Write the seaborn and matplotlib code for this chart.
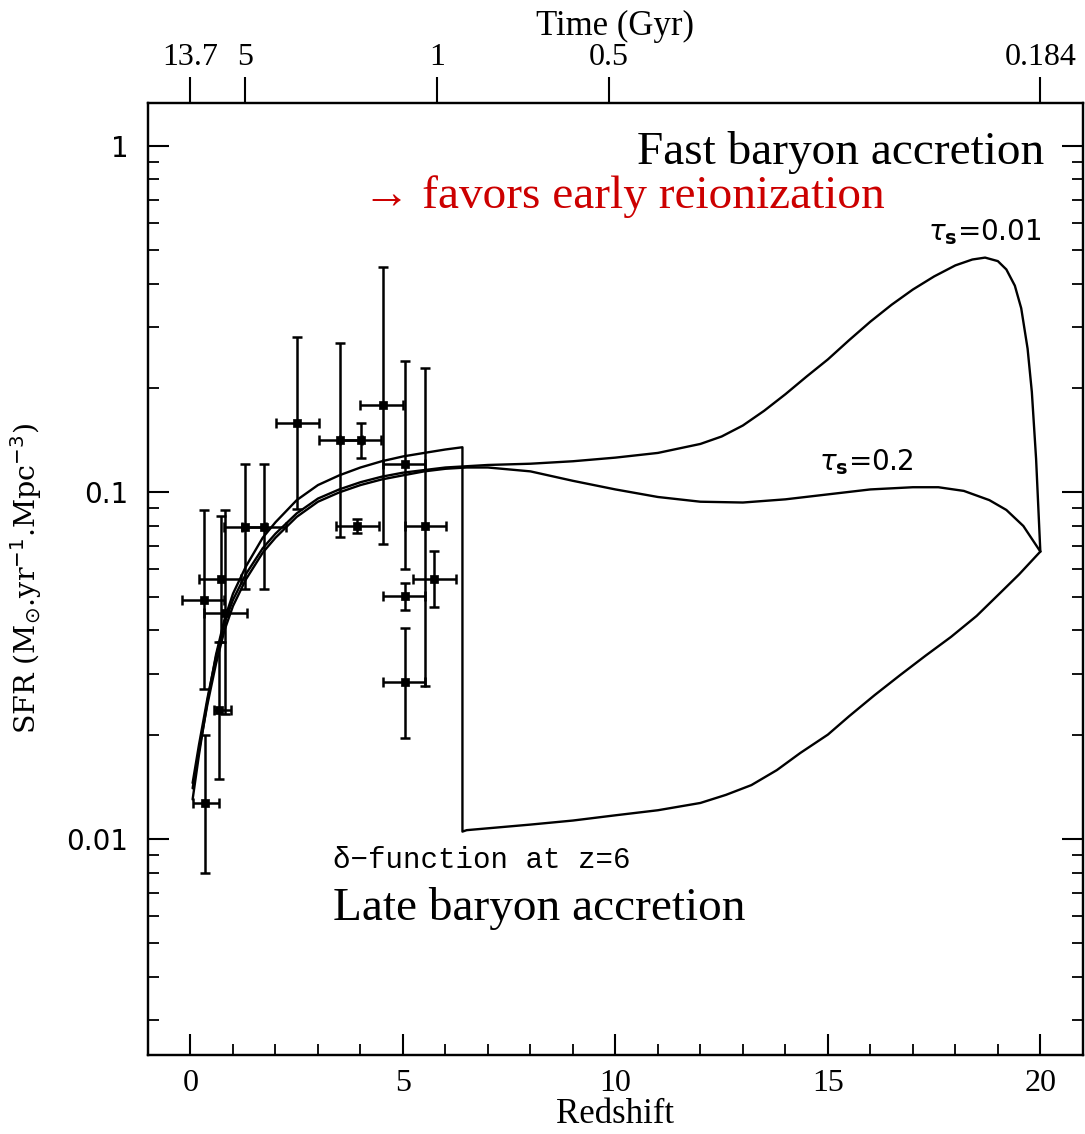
import numpy as np
import pandas as pd
import matplotlib
matplotlib.use("Agg")
import matplotlib.pyplot as plt
import seaborn as sns

# ---------------- data ----------------
# delta-function model (low-z rise, drop at z~6.4, lower branch to z=20)
delta_z = [0.05, 0.2, 0.4, 0.6, 0.8, 1.0, 1.3, 1.7, 2.0, 2.5, 3.0, 3.5, 4.0, 4.5,
           5.0, 5.5, 6.0, 6.4, 6.4, 6.5, 8.0, 9.0, 10.0, 11.0, 12.0, 12.6, 13.2,
           13.8, 14.35, 15.0, 15.5, 16.1, 16.7, 17.3, 17.9, 18.5, 19.05, 19.5, 20.0]
delta_sfr = [0.0130, 0.0175, 0.025, 0.034, 0.043, 0.051, 0.061, 0.074, 0.082, 0.095,
             0.105, 0.112, 0.118, 0.123, 0.127, 0.130, 0.133, 0.135, 0.0105, 0.0106,
             0.0110, 0.0113, 0.0117, 0.0121, 0.0127, 0.0134, 0.0143, 0.0158, 0.0177,
             0.0200, 0.0226, 0.0260, 0.0297, 0.0338, 0.0383, 0.0440, 0.0512, 0.0580,
             0.0675]

# tau_s = 0.01 model
tau001_z = [0.05, 0.2, 0.4, 0.6, 0.8, 1.0, 1.3, 1.7, 2.0, 2.5, 3.0, 3.5, 4.0, 4.5,
            5.0, 5.5, 6.0, 6.5, 7.0, 8.0, 9.0, 10.0, 11.0, 12.0, 12.5, 13.0, 13.5,
            14.0, 14.5, 15.0, 15.5, 16.0, 16.5, 17.0, 17.5, 18.0, 18.4, 18.7, 19.0,
            19.2, 19.4, 19.55, 19.7, 19.8, 19.9, 20.0]
tau001_sfr = [0.0145, 0.0187, 0.0255, 0.0335, 0.042, 0.049, 0.058, 0.069, 0.076,
              0.087, 0.096, 0.102, 0.107, 0.111, 0.114, 0.116, 0.118, 0.119, 0.120,
              0.121, 0.123, 0.126, 0.130, 0.138, 0.145, 0.156, 0.172, 0.192, 0.216,
              0.242, 0.275, 0.311, 0.348, 0.385, 0.420, 0.452, 0.470, 0.476, 0.465,
              0.440, 0.395, 0.340, 0.260, 0.195, 0.125, 0.0675]

# tau_s = 0.2 model
tau02_z = [0.05, 0.2, 0.4, 0.6, 0.8, 1.0, 1.3, 1.7, 2.0, 2.5, 3.0, 3.5, 4.0, 4.5,
           5.0, 5.5, 6.0, 6.5, 7.0, 8.0, 9.0, 10.0, 11.0, 12.0, 13.0, 14.0, 15.0,
           16.0, 17.0, 17.6, 18.2, 18.8, 19.2, 19.6, 20.0]
tau02_sfr = [0.0140, 0.018, 0.0245, 0.032, 0.040, 0.047, 0.056, 0.067, 0.074, 0.085,
             0.094, 0.100, 0.105, 0.109, 0.112, 0.115, 0.117, 0.118, 0.118, 0.115,
             0.108, 0.102, 0.097, 0.094, 0.0935, 0.0955, 0.0987, 0.102, 0.1035,
             0.1035, 0.101, 0.095, 0.089, 0.080, 0.0675]

# observational points
obs_z    = [0.31, 0.71, 0.81, 0.67, 0.35, 1.29, 1.72, 2.51, 3.53, 4.02, 4.53, 5.04,
            5.53, 3.92, 5.04, 5.73, 5.04]
obs_sfr  = [0.049, 0.0564, 0.0448, 0.0236, 0.0127, 0.0796, 0.0796, 0.159, 0.1415,
            0.1415, 0.1786, 0.1205, 0.080, 0.080, 0.0502, 0.0564, 0.0284]
obs_zlo  = [-0.2, 0.2, 0.31, 0.55, 0.06, 0.78, 1.22, 2.01, 3.02, 3.52, 4.0, 4.54,
            5.06, 3.42, 4.53, 5.23, 4.53]
obs_zhi  = [0.78, 1.2, 1.33, 0.96, 0.66, 1.78, 2.24, 3.03, 4.04, 4.49, 5.0, 5.53,
            6.02, 4.43, 5.53, 6.24, 5.53]
obs_ylo  = [0.027, 0.037, 0.0229, 0.0149, 0.008, 0.0528, 0.0528, 0.0897, 0.0745,
            0.126, 0.0708, 0.0603, 0.0277, 0.0766, 0.0459, 0.0467, 0.0196]
obs_yhi  = [0.089, 0.0854, 0.089, 0.037, 0.020, 0.1205, 0.1205, 0.281, 0.269,
            0.159, 0.448, 0.240, 0.229, 0.0836, 0.0549, 0.0677, 0.0407]

# top axis (cosmic time)
time_tick_z = [0.0, 1.28, 5.8, 9.85, 20.0]
time_tick_labels = ["13.7", "5", "1", "0.5", "0.184"]

# ---------------- style ----------------
sns.set_style("ticks")
plt.rcParams["font.family"] = ["DejaVu Sans"]
plt.rcParams["mathtext.fontset"] = "dejavusans"
for key in ["text.color", "axes.labelcolor", "xtick.color", "ytick.color",
            "axes.edgecolor"]:
    plt.rcParams[key] = "black"

fig = plt.figure(figsize=(10.85, 11.34), dpi=100)
ax = fig.add_axes([0.1364, 0.0697, 0.8616, 0.8395])

lw_curve = 1.7
models = [("delta", delta_z, delta_sfr), ("t001", tau001_z, tau001_sfr),
          ("t02", tau02_z, tau02_sfr)]
for name, zz, ss in models:
    df = pd.DataFrame({"z": zz, "sfr": ss})
    sns.lineplot(data=df, x="z", y="sfr", sort=False, estimator=None, ax=ax,
                 color="black", lw=lw_curve)

obs = pd.DataFrame({"z": obs_z, "sfr": obs_sfr, "zlo": obs_zlo, "zhi": obs_zhi,
                    "ylo": obs_ylo, "yhi": obs_yhi})
xerr = np.vstack([obs["z"] - obs["zlo"], obs["zhi"] - obs["z"]])
yerr = np.vstack([obs["sfr"] - obs["ylo"], obs["yhi"] - obs["sfr"]])
ax.errorbar(obs["z"], obs["sfr"], xerr=xerr, yerr=yerr, fmt="none",
            ecolor="black", elinewidth=1.8, capsize=3.8, capthick=1.8, zorder=3)
sns.scatterplot(data=obs, x="z", y="sfr", marker="s", s=38, color="black",
                edgecolor="black", linewidth=0.5, ax=ax, zorder=4)

ax.set_yscale("log")
ax.set_xlim(-1, 21)
ax.set_ylim(0.00238, 1.33)

ax.set_xticks([0, 5, 10, 15, 20])
ax.set_xticks(np.arange(0, 21, 1), minor=True)
ax.set_yticks([0.01, 0.1, 1])
ax.set_yticklabels(["0.01", "0.1", "1"])
ax.yaxis.set_minor_locator(matplotlib.ticker.LogLocator(base=10, subs=np.arange(2, 10)))
ax.yaxis.set_minor_formatter(matplotlib.ticker.NullFormatter())

ax.tick_params(axis="x", which="both", direction="in", top=False, bottom=True,
               labelsize=23, pad=10)
ax.tick_params(axis="y", which="both", direction="in", left=True, right=True,
               labelsize=20, pad=14)
ax.tick_params(which="major", length=15, width=1.5)
ax.tick_params(which="minor", length=8, width=1.3)
for lab in ax.get_xticklabels():
    lab.set_family("Liberation Serif")

for sp in ax.spines.values():
    sp.set_linewidth(1.6)
    sp.set_visible(True)

ax.set_xlabel("Redshift", fontsize=25, family="Liberation Serif", labelpad=0)
ax.set_ylabel(r"SFR (M$_{\odot}$.yr$^{-1}$.Mpc$^{-3}$)", fontsize=20.5,
              family="DejaVu Serif", labelpad=16)

# top time axis
ax2 = ax.twiny()
ax2.set_xlim(ax.get_xlim())
ax2.set_xticks(time_tick_z)
ax2.set_xticklabels(time_tick_labels)
ax2.tick_params(axis="x", direction="out", length=19, width=1.5, labelsize=23, pad=3)
for lab in ax2.get_xticklabels():
    lab.set_family("Liberation Serif")
ax2.set_xlabel("Time (Gyr)", fontsize=25, family="Liberation Serif", labelpad=6)
for sp in ax2.spines.values():
    sp.set_linewidth(1.6)

# annotations
ax.text(20.1, 0.96, "Fast baryon accretion", ha="right", va="center",
        fontsize=34, family="Liberation Serif", color="black")
ax.text(4.05, 0.713, "\u2192 favors early reionization", ha="left", va="center",
        fontsize=34, family="Liberation Serif", color="#cc0000")
ax.text(17.35, 0.565, r"$\tau_{\mathbf{s}}$=0.01", ha="left", va="center",
        fontsize=20)
ax.text(14.8, 0.122, r"$\tau_{\mathbf{s}}$=0.2", ha="left", va="center",
        fontsize=20)
ax.text(3.36, 0.0087, "\u03b4\u2212function at z=6", ha="left", va="center",
        fontsize=21, family="Liberation Mono")
ax.text(3.36, 0.0063, "Late baryon accretion", ha="left", va="center",
        fontsize=34, family="Liberation Serif")

fig.savefig("out.png", dpi=100)
